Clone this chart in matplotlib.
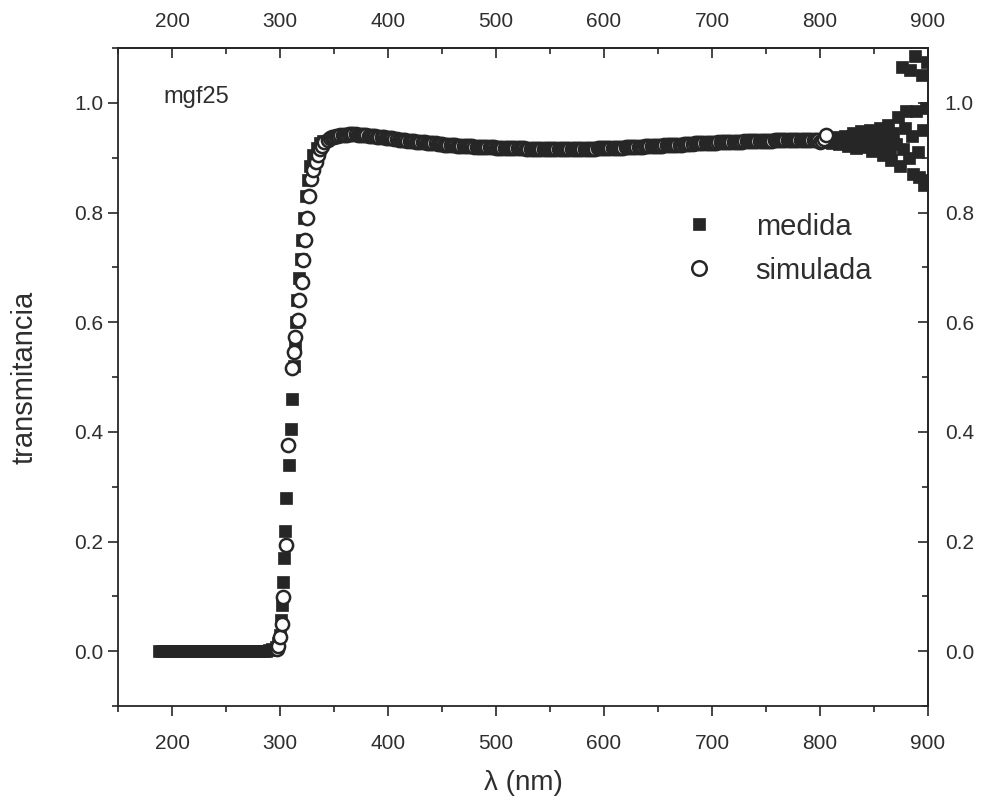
import matplotlib
matplotlib.use('Agg')
import matplotlib.pyplot as plt
import numpy as np
from matplotlib.ticker import FixedLocator, FormatStrFormatter

plt.rcParams['font.family'] = ['Liberation Sans', 'DejaVu Sans']

# ---------------- data ----------------
# medida (measured), flat region
meas_flat_nm = [188, 191, 194, 197, 200, 203, 206, 209, 212, 215, 218, 221, 224,
                227, 230, 233, 236, 239, 242, 245, 248, 251, 254, 257, 260, 263,
                266, 269, 272, 275, 278, 281, 284, 287, 290, 293, 296]
meas_flat_T = [0.001, 0.001, 0.000, 0.001, 0.000, 0.000, 0.001, 0.000, 0.000, 0.000,
               0.001, 0.000, 0.000, 0.000, 0.000, 0.000, 0.000, 0.000, 0.000, 0.000,
               0.000, 0.000, 0.000, 0.000, 0.000, 0.000, 0.000, 0.000, 0.000, 0.000,
               0.000, 0.000, 0.000, 0.001, 0.002, 0.004, 0.008]
# medida, absorption edge
meas_rise_nm = [298, 300, 301, 302, 303, 304, 305, 306, 308, 310, 311, 313, 314,
                315, 316, 318, 319, 320, 322, 324, 326, 328, 331, 334, 337]
meas_rise_T = [0.015, 0.030, 0.056, 0.085, 0.126, 0.170, 0.220, 0.280, 0.340, 0.405,
               0.460, 0.520, 0.560, 0.600, 0.640, 0.680, 0.715, 0.750, 0.790, 0.830,
               0.860, 0.885, 0.905, 0.918, 0.926]
# medida, plateau
meas_plat_nm = [340, 350, 360, 370, 380, 390, 400, 410, 420, 430, 440, 450, 460,
                470, 480, 490, 500, 510, 520, 530, 540, 550, 560, 570, 580, 590,
                600, 610, 620, 630, 640, 650, 660, 670, 680, 690, 700, 710, 720,
                730, 740, 750, 760, 770, 780, 790, 800]
meas_plat_T = [0.930, 0.938, 0.943, 0.944, 0.942, 0.939, 0.936, 0.933, 0.931, 0.929,
               0.927, 0.925, 0.923, 0.922, 0.921, 0.920, 0.919, 0.918, 0.917, 0.917,
               0.916, 0.916, 0.915, 0.915, 0.915, 0.916, 0.916, 0.917, 0.918, 0.919,
               0.920, 0.921, 0.922, 0.923, 0.924, 0.925, 0.926, 0.926, 0.927, 0.928,
               0.929, 0.930, 0.930, 0.931, 0.931, 0.932, 0.932]
# medida, noisy end
meas_noise_nm = [803, 805, 806, 808, 810, 811, 813, 815, 816, 818, 820, 821, 823,
                 825, 826, 828, 830, 831, 833, 835, 836, 838, 840, 841, 843, 845,
                 846, 848, 850, 851, 853, 855, 856, 858, 860, 861, 863, 865, 866,
                 868, 870, 872, 874, 876, 877, 879, 880, 882, 883, 885, 886, 888,
                 889, 891, 892, 894, 895, 896, 898, 899, 900]
meas_noise_T = [0.930, 0.934, 0.928, 0.935, 0.929, 0.926, 0.932, 0.936, 0.938, 0.925,
                0.931, 0.930, 0.940, 0.927, 0.922, 0.935, 0.940, 0.945, 0.918, 0.926,
                0.930, 0.948, 0.935, 0.920, 0.935, 0.928, 0.950, 0.912, 0.938, 0.940,
                0.925, 0.918, 0.955, 0.905, 0.942, 0.935, 0.960, 0.915, 0.895, 0.945,
                0.925, 0.975, 0.885, 1.065, 0.915, 0.955, 0.985, 0.900, 1.060, 0.940,
                0.870, 1.085, 0.985, 0.910, 0.865, 1.050, 0.950, 0.850, 0.990, 1.075,
                0.860]

# simulada (simulated), edge
sim_rise_nm = [297, 298, 300, 302, 303, 306, 307, 311, 313, 314, 317, 318, 320,
               321, 323, 325, 327, 329, 331, 333, 335, 337, 339, 341]
sim_rise_T = [0.004, 0.010, 0.026, 0.050, 0.098, 0.193, 0.376, 0.516, 0.546, 0.573,
              0.604, 0.640, 0.673, 0.713, 0.750, 0.790, 0.830, 0.862, 0.878, 0.893,
              0.905, 0.915, 0.922, 0.928]
# simulada, plateau every 2 nm from 344 to 806
sim_plat_start, sim_plat_stop, sim_plat_step = 344, 807, 2
sim_plat_T = [
    0.933, 0.935, 0.937, 0.938, 0.939, 0.940, 0.941, 0.941, 0.942, 0.942,
    0.943, 0.943, 0.943, 0.943, 0.942, 0.942, 0.942, 0.941, 0.941, 0.940,
    0.940, 0.939, 0.939, 0.938, 0.938, 0.937, 0.937, 0.936, 0.936, 0.935,
    0.935, 0.934, 0.934, 0.933, 0.933, 0.932, 0.932, 0.931, 0.931, 0.930,
    0.930, 0.929, 0.929, 0.928, 0.928, 0.928, 0.927, 0.927, 0.926, 0.926,
    0.926, 0.925, 0.925, 0.925, 0.924, 0.924, 0.924, 0.923, 0.923, 0.923,
    0.922, 0.922, 0.922, 0.922, 0.921, 0.921, 0.921, 0.921, 0.920, 0.920,
    0.920, 0.920, 0.920, 0.919, 0.919, 0.919, 0.919, 0.919, 0.918, 0.918,
    0.918, 0.918, 0.918, 0.918, 0.917, 0.917, 0.917, 0.917, 0.917, 0.917,
    0.917, 0.917, 0.916, 0.916, 0.916, 0.916, 0.916, 0.916, 0.916, 0.916,
    0.916, 0.916, 0.916, 0.916, 0.916, 0.916, 0.916, 0.916, 0.916, 0.916,
    0.916, 0.916, 0.916, 0.916, 0.916, 0.916, 0.916, 0.916, 0.916, 0.916,
    0.916, 0.916, 0.916, 0.916, 0.916, 0.917, 0.917, 0.917, 0.917, 0.917,
    0.917, 0.917, 0.917, 0.918, 0.918, 0.918, 0.918, 0.918, 0.919, 0.919,
    0.919, 0.919, 0.919, 0.920, 0.920, 0.920, 0.920, 0.921, 0.921, 0.921,
    0.921, 0.921, 0.922, 0.922, 0.922, 0.922, 0.923, 0.923, 0.923, 0.923,
    0.923, 0.924, 0.924, 0.924, 0.924, 0.925, 0.925, 0.925, 0.925, 0.925,
    0.926, 0.926, 0.926, 0.926, 0.926, 0.927, 0.927, 0.927, 0.927, 0.927,
    0.927, 0.928, 0.928, 0.928, 0.928, 0.928, 0.928, 0.929, 0.929, 0.929,
    0.929, 0.929, 0.929, 0.930, 0.930, 0.930, 0.930, 0.930, 0.930, 0.930,
    0.931, 0.931, 0.931, 0.931, 0.931, 0.931, 0.931, 0.932, 0.932, 0.932,
    0.932, 0.932, 0.932, 0.932, 0.932, 0.932, 0.933, 0.933, 0.933, 0.933,
    0.933, 0.933, 0.933, 0.933, 0.933, 0.933, 0.933, 0.933, 0.929, 0.930,
    0.934, 0.942]

x_major = [200, 300, 400, 500, 600, 700, 800, 900]
x_minor = [150, 250, 350, 450, 550, 650, 750, 850]
y_major = [0.0, 0.2, 0.4, 0.6, 0.8, 1.0]
y_minor = [-0.1, 0.1, 0.3, 0.5, 0.7, 0.9, 1.1]

sample_label = 'mgf25'
series_labels = ['medida', 'simulada']
x_label = 'λ (nm)'
y_label = 'transmitancia'

# ---------------- assemble ----------------
meas_nm = meas_flat_nm + meas_rise_nm + meas_plat_nm + meas_noise_nm
meas_T = meas_flat_T + meas_rise_T + meas_plat_T + meas_noise_T
sim_nm = sim_rise_nm + list(range(sim_plat_start, sim_plat_stop, sim_plat_step))
sim_T = sim_rise_T + sim_plat_T

ink = '#262626'
txt = '#2e2e2e'

fig = plt.figure(figsize=(9.85, 8.10), dpi=100)
ax = fig.add_axes([118 / 985, 1 - 706 / 810, (928 - 118) / 985, (706 - 48) / 810])

h1, = ax.plot(meas_nm, meas_T, ls='none', marker='s', ms=8.2, mfc=ink, mec=ink,
              mew=0.5, label=series_labels[0], zorder=2)
h2, = ax.plot(sim_nm, sim_T, ls='none', marker='o', ms=9.5, mfc='white', mec=ink,
              mew=1.8, label=series_labels[1], zorder=3)

ax.set_xlim(150, 900)
ax.set_ylim(-0.1, 1.1)

ax.xaxis.set_major_locator(FixedLocator(x_major))
ax.xaxis.set_minor_locator(FixedLocator(x_minor))
ax.yaxis.set_major_locator(FixedLocator(y_major))
ax.yaxis.set_minor_locator(FixedLocator(y_minor))
ax.yaxis.set_major_formatter(FormatStrFormatter('%.1f'))

for sp in ax.spines.values():
    sp.set_color(ink)
    sp.set_linewidth(1.3)

ax.tick_params(which='both', direction='out', colors=ink, labelsize=15,
               width=1.2, labelcolor=txt)
ax.tick_params(which='major', length=7.5)
ax.tick_params(which='minor', length=4)
ax.tick_params(axis='x', which='major', pad=13)
ax.tick_params(axis='y', which='major', pad=3)

top = ax.secondary_xaxis('top')
top.xaxis.set_major_locator(FixedLocator(x_major))
top.xaxis.set_minor_locator(FixedLocator(x_minor))
top.tick_params(which='both', direction='in', colors=ink, labelsize=15, width=1.2,
                labelcolor=txt, pad=12)
top.tick_params(which='major', length=7.5)
top.tick_params(which='minor', length=4)
top.spines['top'].set_linewidth(1.3)
top.spines['top'].set_color(ink)

right = ax.secondary_yaxis('right')
right.yaxis.set_major_locator(FixedLocator(y_major))
right.yaxis.set_minor_locator(FixedLocator(y_minor))
right.yaxis.set_major_formatter(FormatStrFormatter('%.1f'))
right.tick_params(which='both', direction='in', colors=ink, labelsize=15, width=1.2,
                  labelcolor=txt, pad=12)
right.tick_params(which='major', length=7.5)
right.tick_params(which='minor', length=4)
right.spines['right'].set_linewidth(1.3)
right.spines['right'].set_color(ink)

ax.set_xlabel(x_label, fontsize=20, color=txt, labelpad=12)
ax.set_ylabel(y_label, fontsize=21, color=txt, labelpad=26)

ax.text(192, 1.01, sample_label, fontsize=17, color=txt, va='center', ha='left')

leg = ax.legend(handles=[h1, h2], loc='upper left', bbox_to_anchor=(0.681, 0.772),
                frameon=False, fontsize=21, handletextpad=1.45, labelspacing=0.55,
                handlelength=1.0, borderpad=0, markerscale=1.1)
for t in leg.get_texts():
    t.set_color(txt)

fig.savefig('out.png', dpi=100, facecolor='white')
